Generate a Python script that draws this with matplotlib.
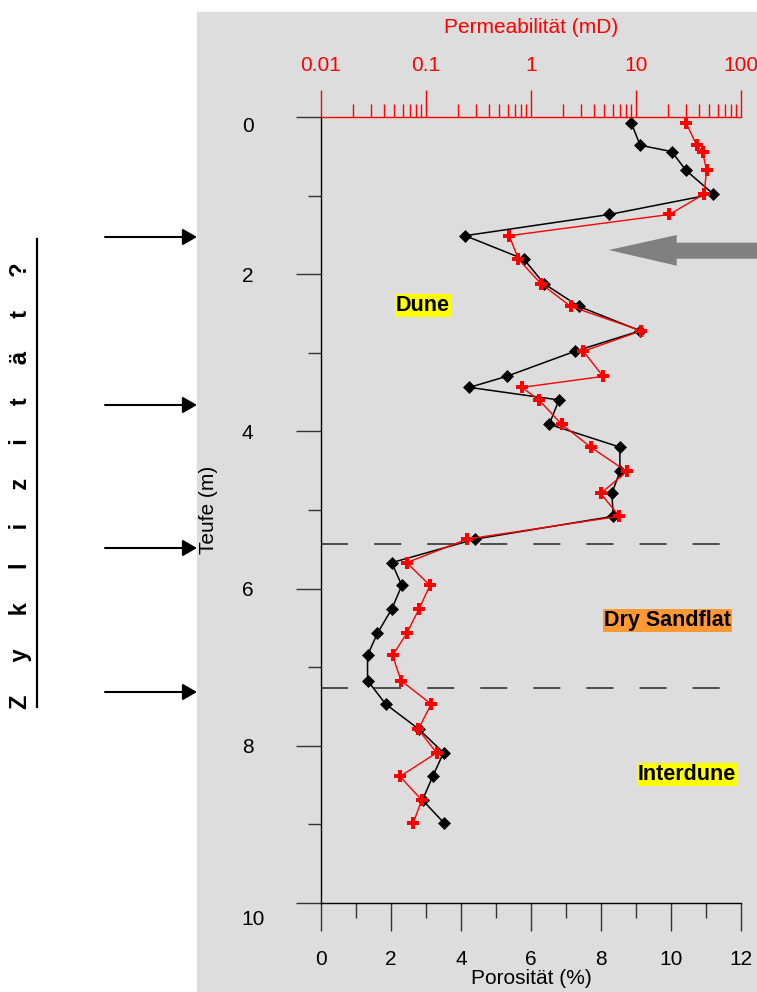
import matplotlib
matplotlib.use("Agg")
import matplotlib.pyplot as plt
from matplotlib.patches import Rectangle, Polygon, FancyArrowPatch, ArrowStyle
from matplotlib.lines import Line2D
from matplotlib.ticker import NullFormatter, MultipleLocator
from matplotlib.transforms import ScaledTranslation

plt.rcParams['font.family'] = ['Liberation Sans', 'DejaVu Sans']

# depth of samples (m)
depth = [0.07, 0.36, 0.44, 0.68, 0.98, 1.24, 1.51, 1.81, 2.12, 2.41, 2.72,
         2.98, 3.30, 3.44, 3.60, 3.91, 4.20, 4.51, 4.79, 5.08, 5.37, 5.67,
         5.96, 6.26, 6.57, 6.85, 7.17, 7.47, 7.79, 8.09, 8.39, 8.69, 8.98]
# porosity (%)
porosity = [8.86, 9.12, 10.02, 10.43, 11.21, 8.24, 4.12, 5.80, 6.37, 7.37, 9.12,
            7.26, 5.30, 4.24, 6.80, 6.52, 8.54, 8.54, 8.31, 8.35, 4.41, 2.02,
            2.31, 2.02, 1.61, 1.33, 1.33, 1.85, 2.80, 3.50, 3.19, 2.90, 3.51]
# permeability (mD)
permeability = [29.9, 37.8, 43.0, 47.0, 44.5, 20.8, 0.62, 0.76, 1.24, 2.39, 11.2,
                3.15, 4.85, 0.82, 1.19, 1.96, 3.70, 8.15, 4.61, 6.93, 0.246, 0.0655,
                0.109, 0.0857, 0.0655, 0.048, 0.0578, 0.112, 0.0845, 0.126, 0.0565, 0.091, 0.0757]

facies_bounds = [5.435, 7.27]
facies_labels = ['Dune', 'Dry Sandflat', 'Interdune']
facies_pos = [(2.91, 2.40), (9.91, 6.41), (10.46, 8.37)]
facies_colors = ['#FFFF00', '#FF9933', '#FFFF00']

cycle_marks = [237, 405, 548, 692]  # pixel rows of the left arrows

perm_ticks = [0.01, 0.1, 1, 10, 100]
perm_ticklabels = ['0.01', '0.1', '1', '10', '100']
depth_ticks = [0, 2, 4, 6, 8, 10]
poro_ticks = [0, 2, 4, 6, 8, 10, 12]

W, H = 757, 992


def fx(px):
    return px / W


def fy(py):
    return 1 - py / H


fig = plt.figure(figsize=(W / 100, H / 100), dpi=100)
fig.patch.set_facecolor('white')

# grey plot area
fig.add_artist(Rectangle((fx(197), 0), fx(757) - fx(197), fy(12), transform=fig.transFigure,
                         color='#DDDDDD', zorder=0))

ax = fig.add_axes([fx(321), fy(903), fx(741) - fx(321), fy(117) - fy(903)])
ax.patch.set_visible(False)
ax2 = ax.twiny()
ax2.patch.set_visible(False)

# porosity (black diamonds)
ax.plot(porosity, depth, color='black', lw=1.1, marker='D', ms=5.8, mew=0.5, zorder=3)

# facies boundaries
for b in facies_bounds:
    ax.plot([0, 11.5], [b, b], color='#404040', lw=1.3, dashes=(15, 14.4), zorder=2)

for (x, y), lab, c in zip(facies_pos, facies_labels, facies_colors):
    ax.text(x, y, lab, fontsize=15.5, fontweight='bold', ha='center', va='center',
            bbox=dict(boxstyle='square,pad=0.05', fc=c, ec='none'), zorder=4)

ax.set_xlim(0, 12)
ax.set_ylim(10, 0)
ax.set_xticks(poro_ticks)
ax.xaxis.set_minor_locator(MultipleLocator(1))
ax.yaxis.set_minor_locator(MultipleLocator(1))
ax.set_yticks(depth_ticks, labels=[str(t) for t in depth_ticks], ha='left')
ax.tick_params(axis='x', which='major', direction='out', length=20, width=1, color='#333333',
               labelsize=15, pad=14)
ax.tick_params(axis='x', which='minor', direction='out', length=11, width=1, color='#333333')
ax.tick_params(axis='y', which='major', direction='out', length=18, width=1, color='#333333',
               labelsize=15, pad=39)
ax.tick_params(axis='y', which='minor', direction='out', length=9.4, width=1, color='#333333')
ax.spines['top'].set_visible(False)
ax.spines['right'].set_visible(False)
ax.spines['left'].set_linewidth(1)
ax.spines['bottom'].set_linewidth(1)
ax.set_xlabel('Porosität (%)', fontsize=15, labelpad=0)
ax.set_ylabel('Teufe (m)', fontsize=15, va='center')
ax.yaxis.set_label_coords((209 - 321) / 420, 0.5)

# end labels sit below their ticks in the original
yt = ax.yaxis.get_major_ticks()
yt[0].label1.set_va('top')
yt[-1].label1.set_va('top')
yt[-1].label1.set_transform(yt[-1].label1.get_transform() +
                            ScaledTranslation(0, -5 / 72, fig.dpi_scale_trans))

# permeability (red crosses, log scale on top)
ax2.plot(permeability, depth, color='red', lw=1.0, marker='P', ms=8.3, mew=0, zorder=4)
ax2.set_xscale('log')
ax2.set_xlim(0.01, 100)
ax2.set_xticks(perm_ticks, labels=perm_ticklabels)
ax2.xaxis.set_minor_formatter(NullFormatter())
ax2.tick_params(axis='x', which='major', direction='out', length=19.5, width=1, colors='red',
                labelsize=15, pad=10.5)
ax2.tick_params(axis='x', which='minor', direction='out', length=9.4, width=1, color='red')
for s in ['left', 'right', 'bottom']:
    ax2.spines[s].set_visible(False)
ax2.spines['top'].set_color('red')
ax2.spines['top'].set_linewidth(1)
ax2.set_xlabel('Permeabilität (mD)', fontsize=15, color='red', labelpad=17)

# grey arrow pointing at the top of the dune
arrow_px = [(608.7, 250), (676.7, 235), (676.7, 242.7), (757, 242.7),
            (757, 258.7), (676.7, 258.7), (676.7, 265.7)]
fig.add_artist(Polygon([(fx(x), fy(y)) for x, y in arrow_px], closed=True,
                       transform=fig.transFigure, fc='#808080', ec='none', zorder=5))

# cycle arrows on the left
for y in cycle_marks:
    fig.add_artist(FancyArrowPatch((fx(105), fy(y)), (fx(197), fy(y)), transform=fig.transFigure,
                                   arrowstyle=ArrowStyle('-|>', head_length=0.4, head_width=0.23),
                                   mutation_scale=21.6, lw=1.5, color='black',
                                   shrinkA=0, shrinkB=0))

fig.text(fx(21), fy(486), 'Z     y     k     l     i     z     i     t     ä     t     ?',
         rotation=90, fontsize=17, fontweight='heavy', ha='center', va='center')
fig.add_artist(Line2D([fx(37), fx(37)], [fy(239), fy(707)], transform=fig.transFigure,
                      color='black', lw=1.6))

fig.savefig('out.png', dpi=100)
